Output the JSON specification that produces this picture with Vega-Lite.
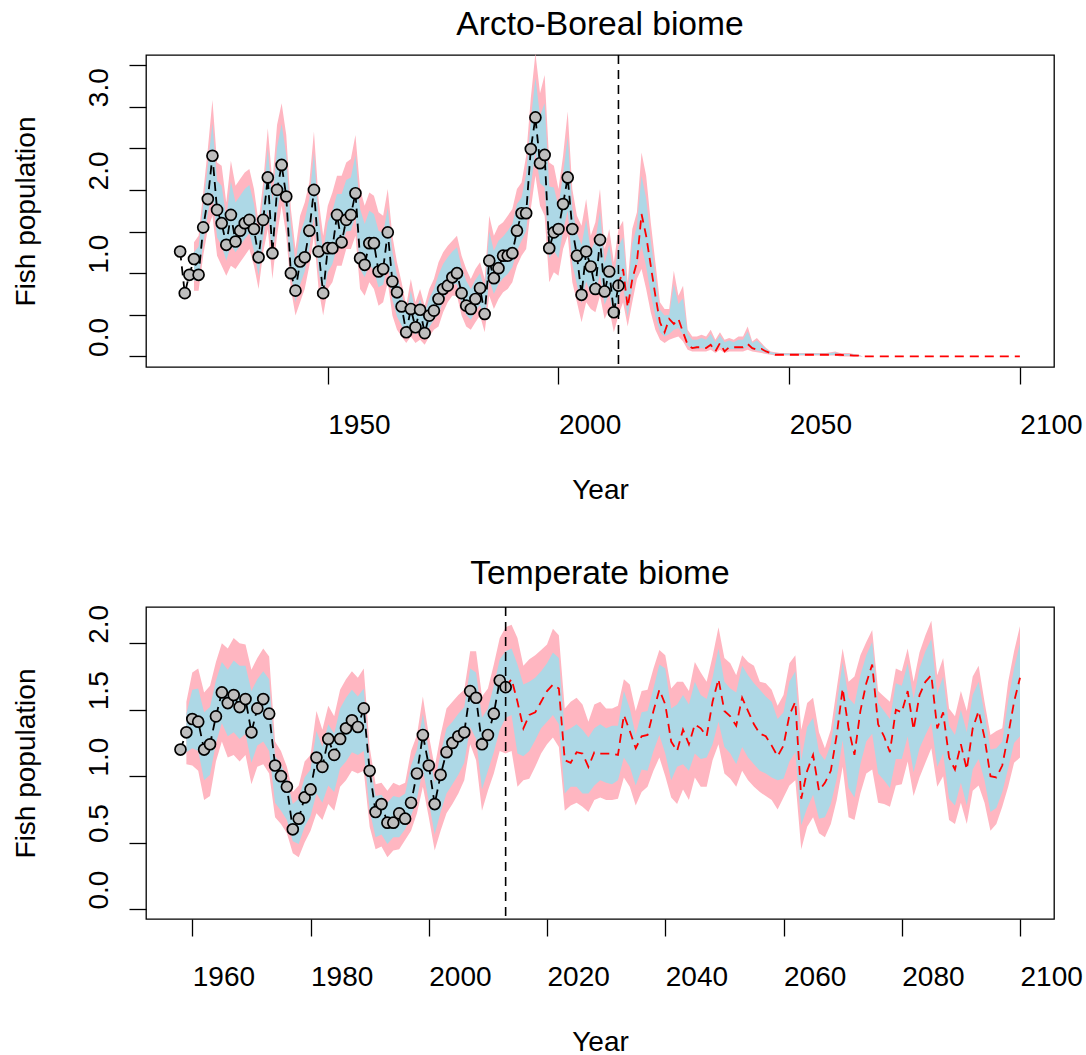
{
"$schema": "https://vega.github.io/schema/vega-lite/v6.json",
"background": "white",
"padding": {"left": 11, "top": 7, "right": 2, "bottom": 2},
"spacing": 51,
"config": {
  "font": "Liberation Sans",
  "view": {"stroke": "black", "strokeWidth": 1.3},
  "axis": {"domain": false, "grid": false, "ticks": true, "tickColor": "black", "tickWidth": 1.3, "tickSize": 17,
    "labelFont": "Liberation Sans", "labelFontSize": 28, "labelColor": "black",
    "titleFont": "Liberation Sans", "titleFontSize": 28, "titleFontWeight": "normal", "titleColor": "black"},
  "title": {"font": "Liberation Sans", "fontSize": 33.6, "fontWeight": "normal", "color": "black", "frame": "group", "anchor": "middle", "baseline": "alphabetic", "offset": 12}
},
"datasets": {
"top": [
{"yr":1918,"est":1.26,"obs":1.26},
{"yr":1919,"est":0.76,"obs":0.76},
{"yr":1920,"est":0.98,"obs":0.98},
{"yr":1921,"est":1.17,"obs":1.17,"p_lo":0.79,"b_lo":0.91,"b_hi":1.25,"p_hi":1.37},
{"yr":1922,"est":0.98,"obs":0.98,"p_lo":0.79,"b_lo":0.92,"b_hi":1.32,"p_hi":1.45},
{"yr":1923,"est":1.55,"obs":1.55,"p_lo":1.21,"b_lo":1.36,"b_hi":1.82,"p_hi":1.97},
{"yr":1924,"est":1.89,"obs":1.89,"p_lo":1.53,"b_lo":1.72,"b_hi":2.30,"p_hi":2.49},
{"yr":1925,"est":2.41,"obs":2.41,"p_lo":1.69,"b_lo":1.97,"b_hi":2.80,"p_hi":3.08},
{"yr":1926,"est":1.76,"obs":1.76,"p_lo":1.21,"b_lo":1.43,"b_hi":2.11,"p_hi":2.33},
{"yr":1927,"est":1.60,"obs":1.60,"p_lo":1.09,"b_lo":1.33,"b_hi":2.05,"p_hi":2.29},
{"yr":1928,"est":1.34,"obs":1.34,"p_lo":0.97,"b_lo":1.15,"b_hi":1.67,"p_hi":1.85},
{"yr":1929,"est":1.70,"obs":1.70,"p_lo":1.09,"b_lo":1.34,"b_hi":2.10,"p_hi":2.35},
{"yr":1930,"est":1.38,"obs":1.38,"p_lo":1.05,"b_lo":1.25,"b_hi":1.85,"p_hi":2.05},
{"yr":1931,"est":1.51,"obs":1.51,"p_lo":1.13,"b_lo":1.33,"b_hi":1.93,"p_hi":2.13},
{"yr":1932,"est":1.60,"obs":1.60,"p_lo":1.21,"b_lo":1.41,"b_hi":2.01,"p_hi":2.21},
{"yr":1933,"est":1.64,"obs":1.64,"p_lo":1.29,"b_lo":1.48,"b_hi":2.06,"p_hi":2.25},
{"yr":1934,"est":1.53,"obs":1.53,"p_lo":1.09,"b_lo":1.27,"b_hi":1.83,"p_hi":2.01},
{"yr":1935,"est":1.19,"obs":1.19,"p_lo":0.81,"b_lo":0.97,"b_hi":1.45,"p_hi":1.61},
{"yr":1936,"est":1.64,"obs":1.64,"p_lo":1.25,"b_lo":1.42,"b_hi":1.92,"p_hi":2.09},
{"yr":1937,"est":2.15,"obs":2.15,"p_lo":1.53,"b_lo":1.77,"b_hi":2.50,"p_hi":2.74},
{"yr":1938,"est":1.24,"obs":1.24,"p_lo":0.93,"b_lo":1.16,"b_hi":1.86,"p_hi":2.09},
{"yr":1939,"est":2.00,"obs":2.00,"p_lo":1.45,"b_lo":1.72,"b_hi":2.51,"p_hi":2.78},
{"yr":1940,"est":2.30,"obs":2.30,"p_lo":1.81,"b_lo":2.06,"b_hi":2.79,"p_hi":3.04},
{"yr":1941,"est":1.92,"obs":1.92,"p_lo":1.45,"b_lo":1.69,"b_hi":2.42,"p_hi":2.66},
{"yr":1942,"est":1.00,"obs":1.00,"p_lo":0.81,"b_lo":1.00,"b_hi":1.58,"p_hi":1.77},
{"yr":1943,"est":0.79,"obs":0.79,"p_lo":0.49,"b_lo":0.65,"b_hi":1.13,"p_hi":1.29},
{"yr":1944,"est":1.14,"obs":1.14,"p_lo":0.65,"b_lo":0.86,"b_hi":1.48,"p_hi":1.69},
{"yr":1945,"est":1.19,"obs":1.19,"p_lo":0.81,"b_lo":1.02,"b_hi":1.64,"p_hi":1.85},
{"yr":1946,"est":1.51,"obs":1.51,"p_lo":1.09,"b_lo":1.29,"b_hi":1.89,"p_hi":2.09},
{"yr":1947,"est":2.00,"obs":2.00,"p_lo":1.45,"b_lo":1.70,"b_hi":2.45,"p_hi":2.70},
{"yr":1948,"est":1.26,"obs":1.26,"p_lo":0.81,"b_lo":1.03,"b_hi":1.67,"p_hi":1.89},
{"yr":1949,"est":0.76,"obs":0.76,"p_lo":0.49,"b_lo":0.68,"b_hi":1.26,"p_hi":1.45},
{"yr":1950,"est":1.30,"obs":1.30,"p_lo":0.81,"b_lo":1.01,"b_hi":1.61,"p_hi":1.81},
{"yr":1951,"est":1.30,"obs":1.30,"p_lo":0.89,"b_lo":1.11,"b_hi":1.75,"p_hi":1.97},
{"yr":1952,"est":1.70,"obs":1.70,"p_lo":1.09,"b_lo":1.31,"b_hi":1.95,"p_hi":2.17},
{"yr":1953,"est":1.37,"obs":1.37,"p_lo":1.09,"b_lo":1.31,"b_hi":1.95,"p_hi":2.17},
{"yr":1954,"est":1.64,"obs":1.64,"p_lo":1.29,"b_lo":1.50,"b_hi":2.12,"p_hi":2.33},
{"yr":1955,"est":1.70,"obs":1.70,"p_lo":1.29,"b_lo":1.51,"b_hi":2.15,"p_hi":2.37},
{"yr":1956,"est":1.96,"obs":1.96,"p_lo":1.45,"b_lo":1.69,"b_hi":2.42,"p_hi":2.66},
{"yr":1957,"est":1.18,"obs":1.18,"p_lo":0.81,"b_lo":1.05,"b_hi":1.77,"p_hi":2.01},
{"yr":1958,"est":1.10,"obs":1.10,"p_lo":0.73,"b_lo":0.95,"b_hi":1.59,"p_hi":1.81},
{"yr":1959,"est":1.36,"obs":1.36,"p_lo":0.89,"b_lo":1.11,"b_hi":1.75,"p_hi":1.97},
{"yr":1960,"est":1.36,"obs":1.36,"p_lo":0.81,"b_lo":1.03,"b_hi":1.71,"p_hi":1.93},
{"yr":1961,"est":1.02,"obs":1.02,"p_lo":0.61,"b_lo":0.83,"b_hi":1.51,"p_hi":1.73},
{"yr":1962,"est":1.05,"obs":1.05,"p_lo":0.65,"b_lo":0.86,"b_hi":1.48,"p_hi":1.69},
{"yr":1963,"est":1.49,"obs":1.49,"p_lo":0.89,"b_lo":1.11,"b_hi":1.79,"p_hi":2.01},
{"yr":1964,"est":0.90,"obs":0.90,"p_lo":0.49,"b_lo":0.68,"b_hi":1.26,"p_hi":1.45},
{"yr":1965,"est":0.77,"obs":0.77,"p_lo":0.32,"b_lo":0.48,"b_hi":0.97,"p_hi":1.13},
{"yr":1966,"est":0.60,"obs":0.60,"p_lo":0.24,"b_lo":0.37,"b_hi":0.76,"p_hi":0.89},
{"yr":1967,"est":0.29,"obs":0.29,"p_lo":0.16,"b_lo":0.25,"b_hi":0.52,"p_hi":0.61},
{"yr":1968,"est":0.57,"obs":0.57,"p_lo":0.24,"b_lo":0.38,"b_hi":0.79,"p_hi":0.93},
{"yr":1969,"est":0.35,"obs":0.35,"p_lo":0.16,"b_lo":0.26,"b_hi":0.55,"p_hi":0.65},
{"yr":1970,"est":0.56,"obs":0.56,"p_lo":0.20,"b_lo":0.32,"b_hi":0.69,"p_hi":0.81},
{"yr":1971,"est":0.28,"obs":0.28,"p_lo":0.14,"b_lo":0.23,"b_hi":0.52,"p_hi":0.61},
{"yr":1972,"est":0.49,"obs":0.49,"p_lo":0.24,"b_lo":0.35,"b_hi":0.70,"p_hi":0.81},
{"yr":1973,"est":0.55,"obs":0.55,"p_lo":0.32,"b_lo":0.44,"b_hi":0.81,"p_hi":0.93},
{"yr":1974,"est":0.69,"obs":0.69,"p_lo":0.36,"b_lo":0.51,"b_hi":0.98,"p_hi":1.13},
{"yr":1975,"est":0.81,"obs":0.81,"p_lo":0.53,"b_lo":0.67,"b_hi":1.11,"p_hi":1.25},
{"yr":1976,"est":0.85,"obs":0.85,"p_lo":0.65,"b_lo":0.79,"b_hi":1.19,"p_hi":1.33},
{"yr":1977,"est":0.95,"obs":0.95,"p_lo":0.73,"b_lo":0.86,"b_hi":1.26,"p_hi":1.39},
{"yr":1978,"est":1.00,"obs":1.00,"p_lo":0.73,"b_lo":0.87,"b_hi":1.31,"p_hi":1.45},
{"yr":1979,"est":0.76,"obs":0.76,"p_lo":0.49,"b_lo":0.63,"b_hi":1.07,"p_hi":1.21},
{"yr":1980,"est":0.61,"obs":0.61,"p_lo":0.36,"b_lo":0.50,"b_hi":0.91,"p_hi":1.05},
{"yr":1981,"est":0.57,"obs":0.57,"p_lo":0.32,"b_lo":0.44,"b_hi":0.81,"p_hi":0.93},
{"yr":1982,"est":0.69,"obs":0.69,"p_lo":0.41,"b_lo":0.54,"b_hi":0.92,"p_hi":1.05},
{"yr":1983,"est":0.82,"obs":0.82,"p_lo":0.49,"b_lo":0.62,"b_hi":1.00,"p_hi":1.13},
{"yr":1984,"est":0.51,"obs":0.51,"p_lo":0.29,"b_lo":0.42,"b_hi":0.80,"p_hi":0.93},
{"yr":1985,"est":1.15,"obs":1.15,"p_lo":0.73,"b_lo":0.92,"b_hi":1.50,"p_hi":1.69},
{"yr":1986,"est":0.94,"obs":0.94,"p_lo":0.57,"b_lo":0.75,"b_hi":1.27,"p_hi":1.45},
{"yr":1987,"est":1.06,"obs":1.06,"p_lo":0.69,"b_lo":0.87,"b_hi":1.39,"p_hi":1.57},
{"yr":1988,"est":1.21,"obs":1.21,"p_lo":0.77,"b_lo":0.94,"b_hi":1.44,"p_hi":1.61},
{"yr":1989,"est":1.21,"obs":1.21,"p_lo":0.81,"b_lo":0.99,"b_hi":1.51,"p_hi":1.69},
{"yr":1990,"est":1.24,"obs":1.24,"p_lo":0.89,"b_lo":1.07,"b_hi":1.59,"p_hi":1.77},
{"yr":1991,"est":1.51,"obs":1.51,"p_lo":1.09,"b_lo":1.27,"b_hi":1.83,"p_hi":2.01},
{"yr":1992,"est":1.72,"obs":1.72,"p_lo":1.21,"b_lo":1.39,"b_hi":1.91,"p_hi":2.09},
{"yr":1993,"est":1.72,"obs":1.72,"p_lo":1.29,"b_lo":1.51,"b_hi":2.19,"p_hi":2.41},
{"yr":1994,"est":2.49,"obs":2.49,"p_lo":1.77,"b_lo":2.04,"b_hi":2.83,"p_hi":3.10},
{"yr":1995,"est":2.87,"obs":2.87,"p_lo":2.17,"b_lo":2.46,"b_hi":3.35,"p_hi":3.64},
{"yr":1996,"est":2.32,"obs":2.32,"p_lo":1.81,"b_lo":2.08,"b_hi":2.89,"p_hi":3.16},
{"yr":1997,"est":2.42,"obs":2.42,"p_lo":1.69,"b_lo":2.03,"b_hi":3.04,"p_hi":3.38},
{"yr":1998,"est":1.30,"obs":1.30,"p_lo":0.89,"b_lo":1.18,"b_hi":2.04,"p_hi":2.33},
{"yr":1999,"est":1.49,"obs":1.49,"p_lo":1.01,"b_lo":1.27,"b_hi":2.03,"p_hi":2.29},
{"yr":2000,"est":1.53,"obs":1.53,"p_lo":0.97,"b_lo":1.18,"b_hi":1.80,"p_hi":2.01},
{"yr":2001,"est":1.83,"obs":1.83,"p_lo":1.29,"b_lo":1.51,"b_hi":2.19,"p_hi":2.41},
{"yr":2002,"est":2.15,"obs":2.15,"p_lo":1.45,"b_lo":1.75,"b_hi":2.64,"p_hi":2.94},
{"yr":2003,"est":1.53,"obs":1.53,"p_lo":0.89,"b_lo":1.11,"b_hi":1.79,"p_hi":2.01},
{"yr":2004,"est":1.21,"obs":1.21,"p_lo":0.65,"b_lo":0.86,"b_hi":1.48,"p_hi":1.69},
{"yr":2005,"est":0.74,"obs":0.74,"p_lo":0.41,"b_lo":0.64,"b_hi":1.34,"p_hi":1.57},
{"yr":2006,"est":1.26,"obs":1.26,"p_lo":0.65,"b_lo":0.90,"b_hi":1.64,"p_hi":1.89},
{"yr":2007,"est":1.08,"obs":1.08,"p_lo":0.57,"b_lo":0.75,"b_hi":1.27,"p_hi":1.45},
{"yr":2008,"est":0.81,"obs":0.81,"p_lo":0.53,"b_lo":0.75,"b_hi":1.39,"p_hi":1.61},
{"yr":2009,"est":1.40,"obs":1.40,"p_lo":0.73,"b_lo":0.99,"b_hi":1.75,"p_hi":2.01},
{"yr":2010,"est":0.78,"obs":0.78,"p_lo":0.45,"b_lo":0.62,"b_hi":1.12,"p_hi":1.29},
{"yr":2011,"est":1.02,"obs":1.02,"p_lo":0.57,"b_lo":0.76,"b_hi":1.34,"p_hi":1.53},
{"yr":2012,"est":0.53,"obs":0.53,"p_lo":0.29,"b_lo":0.46,"b_hi":0.96,"p_hi":1.13},
{"yr":2013,"est":0.85,"obs":0.85,"p_lo":0.49,"b_lo":0.70,"b_hi":1.32,"p_hi":1.53},
{"yr":2014,"est":1.05,"p_lo":0.65,"b_lo":0.85,"b_hi":1.43,"p_hi":1.63},
{"yr":2015,"est":0.59,"p_lo":0.36,"b_lo":0.47,"b_hi":0.78,"p_hi":0.89},
{"yr":2016,"est":0.93,"p_lo":0.65,"b_lo":0.83,"b_hi":1.35,"p_hi":1.53},
{"yr":2017,"est":1.13,"p_lo":0.93,"b_lo":1.09,"b_hi":1.57,"p_hi":1.73},
{"yr":2018,"est":1.71,"p_lo":1.05,"b_lo":1.33,"b_hi":2.17,"p_hi":2.45},
{"yr":2019,"est":1.45,"p_lo":0.81,"b_lo":1.08,"b_hi":1.90,"p_hi":2.17},
{"yr":2020,"est":1.09,"p_lo":0.53,"b_lo":0.75,"b_hi":1.39,"p_hi":1.61},
{"yr":2021,"est":0.73,"p_lo":0.32,"b_lo":0.48,"b_hi":0.97,"p_hi":1.13},
{"yr":2022,"est":0.41,"p_lo":0.20,"b_lo":0.29,"b_hi":0.56,"p_hi":0.65},
{"yr":2023,"est":0.29,"p_lo":0.16,"b_lo":0.24,"b_hi":0.49,"p_hi":0.57},
{"yr":2024,"est":0.45,"p_lo":0.20,"b_lo":0.27,"b_hi":0.50,"p_hi":0.57},
{"yr":2025,"est":0.39,"p_lo":0.22,"b_lo":0.32,"b_hi":0.87,"p_hi":1.03},
{"yr":2026,"est":0.45,"p_lo":0.24,"b_lo":0.34,"b_hi":0.63,"p_hi":0.73},
{"yr":2027,"est":0.29,"p_lo":0.18,"b_lo":0.26,"b_hi":0.70,"p_hi":0.85},
{"yr":2028,"est":0.14,"p_lo":0.08,"b_lo":0.13,"b_hi":0.27,"p_hi":0.32},
{"yr":2029,"est":0.10,"p_lo":0.06,"b_lo":0.09,"b_hi":0.20,"p_hi":0.24},
{"yr":2030,"est":0.11,"p_lo":0.06,"b_lo":0.09,"b_hi":0.20,"p_hi":0.24},
{"yr":2031,"est":0.11,"p_lo":0.06,"b_lo":0.10,"b_hi":0.22,"p_hi":0.26},
{"yr":2032,"est":0.10,"p_lo":0.06,"b_lo":0.09,"b_hi":0.20,"p_hi":0.24},
{"yr":2033,"est":0.14,"p_lo":0.08,"b_lo":0.12,"b_hi":0.27,"p_hi":0.32},
{"yr":2034,"est":0.06,"p_lo":0.04,"b_lo":0.06,"b_hi":0.17,"p_hi":0.20},
{"yr":2035,"est":0.16,"p_lo":0.08,"b_lo":0.12,"b_hi":0.25,"p_hi":0.29},
{"yr":2036,"est":0.06,"p_lo":0.04,"b_lo":0.06,"b_hi":0.17,"p_hi":0.20},
{"yr":2037,"est":0.11,"p_lo":0.06,"b_lo":0.09,"b_hi":0.19,"p_hi":0.22},
{"yr":2038,"est":0.11,"p_lo":0.06,"b_lo":0.09,"b_hi":0.17,"p_hi":0.20},
{"yr":2039,"est":0.11,"p_lo":0.06,"b_lo":0.09,"b_hi":0.20,"p_hi":0.24},
{"yr":2040,"est":0.11,"p_lo":0.06,"b_lo":0.09,"b_hi":0.20,"p_hi":0.24},
{"yr":2041,"est":0.15,"p_lo":0.08,"b_lo":0.12,"b_hi":0.30,"p_hi":0.36},
{"yr":2042,"est":0.10,"p_lo":0.06,"b_lo":0.08,"b_hi":0.16,"p_hi":0.18},
{"yr":2043,"est":0.08,"p_lo":0.05,"b_lo":0.07,"b_hi":0.19,"p_hi":0.22},
{"yr":2044,"est":0.09,"p_lo":0.04,"b_lo":0.06,"b_hi":0.14,"p_hi":0.16},
{"yr":2045,"est":0.06,"p_lo":0.03,"b_lo":0.04,"b_hi":0.09,"p_hi":0.10},
{"yr":2046,"est":0.04,"p_lo":0.02,"b_lo":0.03,"b_hi":0.05,"p_hi":0.06},
{"yr":2047,"est":0.02,"p_lo":0.01,"b_lo":0.02,"b_hi":0.04,"p_hi":0.05},
{"yr":2048,"est":0.02,"p_lo":0.01,"b_lo":0.016,"b_hi":0.034,"p_hi":0.04},
{"yr":2049,"est":0.02,"p_lo":0.01,"b_lo":0.016,"b_hi":0.034,"p_hi":0.04},
{"yr":2050,"est":0.02,"p_lo":0.01,"b_lo":0.016,"b_hi":0.034,"p_hi":0.04},
{"yr":2051,"est":0.02,"p_lo":0.01,"b_lo":0.016,"b_hi":0.034,"p_hi":0.04},
{"yr":2052,"est":0.02,"p_lo":0.01,"b_lo":0.016,"b_hi":0.034,"p_hi":0.04},
{"yr":2053,"est":0.02,"p_lo":0.01,"b_lo":0.016,"b_hi":0.034,"p_hi":0.04},
{"yr":2054,"est":0.02,"p_lo":0.01,"b_lo":0.016,"b_hi":0.034,"p_hi":0.04},
{"yr":2055,"est":0.02,"p_lo":0.01,"b_lo":0.016,"b_hi":0.034,"p_hi":0.04},
{"yr":2056,"est":0.02,"p_lo":0.01,"b_lo":0.016,"b_hi":0.034,"p_hi":0.04},
{"yr":2057,"est":0.02,"p_lo":0.01,"b_lo":0.016,"b_hi":0.034,"p_hi":0.04},
{"yr":2058,"est":0.02,"p_lo":0.01,"b_lo":0.016,"b_hi":0.034,"p_hi":0.04},
{"yr":2059,"est":0.02,"p_lo":0.01,"b_lo":0.016,"b_hi":0.04,"p_hi":0.05},
{"yr":2060,"est":0.02,"p_lo":0.01,"b_lo":0.02,"b_hi":0.05,"p_hi":0.06},
{"yr":2061,"est":0.02,"p_lo":0.0,"b_lo":0.01,"b_hi":0.03,"p_hi":0.04},
{"yr":2062,"est":0.015,"p_lo":0.0,"b_lo":0.01,"b_hi":0.03,"p_hi":0.04},
{"yr":2063,"est":0.015,"p_lo":0.0,"b_lo":0.01,"b_hi":0.03,"p_hi":0.04},
{"yr":2064,"est":0.01,"p_lo":0.0,"b_lo":0.01,"b_hi":0.025,"p_hi":0.03},
{"yr":2065,"est":0.01,"p_lo":0.0,"b_lo":0.004,"b_hi":0.016,"p_hi":0.02},
{"yr":2066,"est":0.0,"p_lo":0,"b_lo":0,"b_hi":0,"p_hi":0},
{"yr":2070,"est":0.0,"p_lo":0,"b_lo":0,"b_hi":0,"p_hi":0},
{"yr":2080,"est":0.0,"p_lo":0,"b_lo":0,"b_hi":0,"p_hi":0},
{"yr":2090,"est":0.0,"p_lo":0,"b_lo":0,"b_hi":0,"p_hi":0},
{"yr":2100,"est":0.0,"p_lo":0,"b_lo":0,"b_hi":0,"p_hi":0}
],
"bot": [
{"yr":1958,"est":1.20,"obs":1.20},
{"yr":1959,"est":1.33,"obs":1.33,"p_lo":1.09,"b_lo":1.18,"b_hi":1.47,"p_hi":1.56},
{"yr":1960,"est":1.43,"obs":1.43,"p_lo":1.08,"b_lo":1.21,"b_hi":1.65,"p_hi":1.78},
{"yr":1961,"est":1.41,"obs":1.41,"p_lo":1.04,"b_lo":1.19,"b_hi":1.66,"p_hi":1.81},
{"yr":1962,"est":1.20,"obs":1.20,"p_lo":0.82,"b_lo":0.97,"b_hi":1.48,"p_hi":1.63},
{"yr":1963,"est":1.24,"obs":1.24,"p_lo":0.85,"b_lo":1.01,"b_hi":1.52,"p_hi":1.68},
{"yr":1964,"est":1.45,"obs":1.45,"p_lo":1.11,"b_lo":1.25,"b_hi":1.72,"p_hi":1.86},
{"yr":1965,"est":1.63,"obs":1.63,"p_lo":1.26,"b_lo":1.40,"b_hi":1.86,"p_hi":2.00},
{"yr":1966,"est":1.55,"obs":1.55,"p_lo":1.14,"b_lo":1.30,"b_hi":1.80,"p_hi":1.96},
{"yr":1967,"est":1.61,"obs":1.61,"p_lo":1.16,"b_lo":1.33,"b_hi":1.87,"p_hi":2.04},
{"yr":1968,"est":1.52,"obs":1.52,"p_lo":1.11,"b_lo":1.28,"b_hi":1.83,"p_hi":2.00},
{"yr":1969,"est":1.58,"obs":1.58,"p_lo":1.16,"b_lo":1.32,"b_hi":1.83,"p_hi":1.99},
{"yr":1970,"est":1.33,"obs":1.33,"p_lo":0.94,"b_lo":1.10,"b_hi":1.64,"p_hi":1.80},
{"yr":1971,"est":1.51,"obs":1.51,"p_lo":1.07,"b_lo":1.23,"b_hi":1.73,"p_hi":1.89},
{"yr":1972,"est":1.58,"obs":1.58,"p_lo":1.09,"b_lo":1.26,"b_hi":1.79,"p_hi":1.96},
{"yr":1973,"est":1.47,"obs":1.47,"p_lo":1.02,"b_lo":1.19,"b_hi":1.73,"p_hi":1.90},
{"yr":1974,"est":1.08,"obs":1.08,"p_lo":0.69,"b_lo":0.80,"b_hi":1.15,"p_hi":1.26},
{"yr":1975,"est":1.00,"obs":1.00,"p_lo":0.64,"b_lo":0.74,"b_hi":1.09,"p_hi":1.19},
{"yr":1976,"est":0.92,"obs":0.92,"p_lo":0.57,"b_lo":0.67,"b_hi":0.98,"p_hi":1.07},
{"yr":1977,"est":0.60,"obs":0.60,"p_lo":0.42,"b_lo":0.51,"b_hi":0.79,"p_hi":0.88},
{"yr":1978,"est":0.68,"obs":0.68,"p_lo":0.39,"b_lo":0.49,"b_hi":0.83,"p_hi":0.93},
{"yr":1979,"est":0.84,"obs":0.84,"p_lo":0.50,"b_lo":0.62,"b_hi":0.99,"p_hi":1.11},
{"yr":1980,"est":0.90,"obs":0.90,"p_lo":0.59,"b_lo":0.70,"b_hi":1.05,"p_hi":1.16},
{"yr":1981,"est":1.14,"obs":1.14,"p_lo":0.72,"b_lo":0.87,"b_hi":1.34,"p_hi":1.49},
{"yr":1982,"est":1.07,"obs":1.07,"p_lo":0.67,"b_lo":0.80,"b_hi":1.22,"p_hi":1.35},
{"yr":1983,"est":1.28,"obs":1.28,"p_lo":0.79,"b_lo":0.93,"b_hi":1.39,"p_hi":1.53},
{"yr":1984,"est":1.16,"obs":1.16,"p_lo":0.74,"b_lo":0.88,"b_hi":1.32,"p_hi":1.45},
{"yr":1985,"est":1.28,"obs":1.28,"p_lo":0.92,"b_lo":1.06,"b_hi":1.51,"p_hi":1.65},
{"yr":1986,"est":1.36,"obs":1.36,"p_lo":0.97,"b_lo":1.11,"b_hi":1.59,"p_hi":1.73},
{"yr":1987,"est":1.42,"obs":1.42,"p_lo":1.04,"b_lo":1.18,"b_hi":1.65,"p_hi":1.79},
{"yr":1988,"est":1.37,"obs":1.37,"p_lo":1.02,"b_lo":1.16,"b_hi":1.60,"p_hi":1.74},
{"yr":1989,"est":1.51,"obs":1.51,"p_lo":1.04,"b_lo":1.19,"b_hi":1.66,"p_hi":1.81},
{"yr":1990,"est":1.04,"obs":1.04,"p_lo":0.62,"b_lo":0.74,"b_hi":1.10,"p_hi":1.22},
{"yr":1991,"est":0.73,"obs":0.73,"p_lo":0.45,"b_lo":0.54,"b_hi":0.85,"p_hi":0.94},
{"yr":1992,"est":0.79,"obs":0.79,"p_lo":0.47,"b_lo":0.56,"b_hi":0.86,"p_hi":0.95},
{"yr":1993,"est":0.65,"obs":0.65,"p_lo":0.39,"b_lo":0.49,"b_hi":0.80,"p_hi":0.89},
{"yr":1994,"est":0.65,"obs":0.65,"p_lo":0.44,"b_lo":0.54,"b_hi":0.85,"p_hi":0.95},
{"yr":1995,"est":0.72,"obs":0.72,"p_lo":0.45,"b_lo":0.54,"b_hi":0.84,"p_hi":0.93},
{"yr":1996,"est":0.68,"obs":0.68,"p_lo":0.52,"b_lo":0.60,"b_hi":0.87,"p_hi":0.95},
{"yr":1997,"est":0.80,"obs":0.80,"p_lo":0.59,"b_lo":0.70,"b_hi":1.08,"p_hi":1.19},
{"yr":1998,"est":1.02,"obs":1.02,"p_lo":0.72,"b_lo":0.83,"b_hi":1.20,"p_hi":1.31},
{"yr":1999,"est":1.31,"obs":1.31,"p_lo":0.92,"b_lo":1.05,"b_hi":1.47,"p_hi":1.60},
{"yr":2000,"est":1.08,"obs":1.08,"p_lo":0.69,"b_lo":0.81,"b_hi":1.19,"p_hi":1.31},
{"yr":2001,"est":0.79,"obs":0.79,"p_lo":0.44,"b_lo":0.56,"b_hi":0.95,"p_hi":1.07},
{"yr":2002,"est":1.01,"obs":1.01,"p_lo":0.59,"b_lo":0.73,"b_hi":1.17,"p_hi":1.31},
{"yr":2003,"est":1.18,"obs":1.18,"p_lo":0.72,"b_lo":0.87,"b_hi":1.36,"p_hi":1.51},
{"yr":2004,"est":1.25,"obs":1.25,"p_lo":0.79,"b_lo":0.94,"b_hi":1.41,"p_hi":1.56},
{"yr":2005,"est":1.30,"obs":1.30,"p_lo":0.87,"b_lo":1.01,"b_hi":1.47,"p_hi":1.61},
{"yr":2006,"est":1.33,"obs":1.33,"p_lo":0.97,"b_lo":1.10,"b_hi":1.52,"p_hi":1.65},
{"yr":2007,"est":1.64,"obs":1.64,"p_lo":1.24,"b_lo":1.37,"b_hi":1.81,"p_hi":1.94},
{"yr":2008,"est":1.59,"obs":1.59,"p_lo":1.12,"b_lo":1.28,"b_hi":1.78,"p_hi":1.94},
{"yr":2009,"est":1.24,"obs":1.24,"p_lo":0.74,"b_lo":0.90,"b_hi":1.44,"p_hi":1.60},
{"yr":2010,"est":1.31,"obs":1.31,"p_lo":0.89,"b_lo":1.04,"b_hi":1.51,"p_hi":1.66},
{"yr":2011,"est":1.47,"obs":1.47,"p_lo":1.02,"b_lo":1.18,"b_hi":1.68,"p_hi":1.84},
{"yr":2012,"est":1.72,"obs":1.72,"p_lo":1.19,"b_lo":1.35,"b_hi":1.88,"p_hi":2.04},
{"yr":2013,"est":1.67,"obs":1.67,"p_lo":1.17,"b_lo":1.44,"b_hi":1.94,"p_hi":2.12},
{"yr":2014,"est":1.73,"p_lo":1.19,"b_lo":1.46,"b_hi":1.96,"p_hi":2.14},
{"yr":2015,"est":1.56,"p_lo":0.92,"b_lo":1.17,"b_hi":1.84,"p_hi":2.04},
{"yr":2016,"est":1.36,"p_lo":0.97,"b_lo":1.15,"b_hi":1.69,"p_hi":1.83},
{"yr":2017,"est":1.46,"p_lo":0.98,"b_lo":1.19,"b_hi":1.71,"p_hi":1.88},
{"yr":2018,"est":1.48,"p_lo":1.07,"b_lo":1.27,"b_hi":1.74,"p_hi":1.91},
{"yr":2019,"est":1.56,"p_lo":1.17,"b_lo":1.36,"b_hi":1.79,"p_hi":1.95},
{"yr":2020,"est":1.64,"p_lo":1.24,"b_lo":1.41,"b_hi":1.85,"p_hi":1.99},
{"yr":2021,"est":1.69,"p_lo":1.29,"b_lo":1.46,"b_hi":1.93,"p_hi":2.11},
{"yr":2022,"est":1.66,"p_lo":1.22,"b_lo":1.39,"b_hi":1.89,"p_hi":2.06},
{"yr":2023,"est":1.12,"p_lo":0.74,"b_lo":0.87,"b_hi":1.34,"p_hi":1.51},
{"yr":2024,"est":1.10,"p_lo":0.78,"b_lo":0.92,"b_hi":1.36,"p_hi":1.56},
{"yr":2025,"est":1.18,"p_lo":0.80,"b_lo":0.92,"b_hi":1.39,"p_hi":1.59},
{"yr":2026,"est":1.17,"p_lo":0.77,"b_lo":0.87,"b_hi":1.35,"p_hi":1.54},
{"yr":2027,"est":1.07,"p_lo":0.73,"b_lo":0.87,"b_hi":1.29,"p_hi":1.41},
{"yr":2028,"est":1.18,"p_lo":0.82,"b_lo":0.93,"b_hi":1.36,"p_hi":1.54},
{"yr":2029,"est":1.17,"p_lo":0.84,"b_lo":0.97,"b_hi":1.39,"p_hi":1.56},
{"yr":2030,"est":1.17,"p_lo":0.82,"b_lo":0.95,"b_hi":1.36,"p_hi":1.51},
{"yr":2031,"est":1.17,"p_lo":0.82,"b_lo":0.94,"b_hi":1.38,"p_hi":1.51},
{"yr":2032,"est":1.16,"p_lo":0.83,"b_lo":0.97,"b_hi":1.38,"p_hi":1.53},
{"yr":2033,"est":1.46,"p_lo":0.99,"b_lo":1.14,"b_hi":1.64,"p_hi":1.73},
{"yr":2034,"est":1.34,"p_lo":0.92,"b_lo":1.07,"b_hi":1.51,"p_hi":1.69},
{"yr":2035,"est":1.21,"p_lo":0.78,"b_lo":0.93,"b_hi":1.31,"p_hi":1.49},
{"yr":2036,"est":1.30,"p_lo":0.88,"b_lo":1.05,"b_hi":1.48,"p_hi":1.64},
{"yr":2037,"est":1.31,"p_lo":0.92,"b_lo":1.04,"b_hi":1.49,"p_hi":1.65},
{"yr":2038,"est":1.49,"p_lo":1.04,"b_lo":1.19,"b_hi":1.66,"p_hi":1.81},
{"yr":2039,"est":1.65,"p_lo":1.14,"b_lo":1.31,"b_hi":1.84,"p_hi":1.95},
{"yr":2040,"est":1.54,"p_lo":1.00,"b_lo":1.17,"b_hi":1.81,"p_hi":1.91},
{"yr":2041,"est":1.26,"p_lo":0.84,"b_lo":0.97,"b_hi":1.51,"p_hi":1.66},
{"yr":2042,"est":1.19,"p_lo":0.79,"b_lo":1.07,"b_hi":1.54,"p_hi":1.71},
{"yr":2043,"est":1.35,"p_lo":0.90,"b_lo":1.09,"b_hi":1.61,"p_hi":1.71},
{"yr":2044,"est":1.24,"p_lo":0.82,"b_lo":1.04,"b_hi":1.54,"p_hi":1.64},
{"yr":2045,"est":1.39,"p_lo":0.99,"b_lo":1.17,"b_hi":1.71,"p_hi":1.86},
{"yr":2046,"est":1.36,"p_lo":0.92,"b_lo":1.13,"b_hi":1.61,"p_hi":1.78},
{"yr":2047,"est":1.30,"p_lo":0.92,"b_lo":1.14,"b_hi":1.58,"p_hi":1.71},
{"yr":2048,"est":1.56,"p_lo":1.12,"b_lo":1.24,"b_hi":1.74,"p_hi":1.90},
{"yr":2049,"est":1.73,"p_lo":1.24,"b_lo":1.41,"b_hi":1.96,"p_hi":2.12},
{"yr":2050,"est":1.49,"p_lo":1.02,"b_lo":1.22,"b_hi":1.71,"p_hi":1.89},
{"yr":2051,"est":1.45,"p_lo":0.98,"b_lo":1.17,"b_hi":1.66,"p_hi":1.85},
{"yr":2052,"est":1.38,"p_lo":0.92,"b_lo":1.09,"b_hi":1.63,"p_hi":1.76},
{"yr":2053,"est":1.59,"p_lo":1.04,"b_lo":1.22,"b_hi":1.83,"p_hi":1.91},
{"yr":2054,"est":1.49,"p_lo":0.97,"b_lo":1.14,"b_hi":1.76,"p_hi":1.86},
{"yr":2055,"est":1.39,"p_lo":0.92,"b_lo":1.09,"b_hi":1.70,"p_hi":1.83},
{"yr":2056,"est":1.32,"p_lo":0.88,"b_lo":1.04,"b_hi":1.65,"p_hi":1.71},
{"yr":2057,"est":1.30,"p_lo":0.85,"b_lo":1.02,"b_hi":1.60,"p_hi":1.70},
{"yr":2058,"est":1.23,"p_lo":0.82,"b_lo":0.99,"b_hi":1.56,"p_hi":1.65},
{"yr":2059,"est":1.15,"p_lo":0.75,"b_lo":0.97,"b_hi":1.43,"p_hi":1.53},
{"yr":2060,"est":1.23,"p_lo":0.84,"b_lo":0.98,"b_hi":1.48,"p_hi":1.61},
{"yr":2061,"est":1.46,"p_lo":0.93,"b_lo":1.11,"b_hi":1.71,"p_hi":1.85},
{"yr":2062,"est":1.56,"p_lo":0.97,"b_lo":1.18,"b_hi":1.79,"p_hi":1.91},
{"yr":2063,"est":0.83,"p_lo":0.45,"b_lo":0.63,"b_hi":1.12,"p_hi":1.35},
{"yr":2064,"est":1.04,"p_lo":0.62,"b_lo":0.76,"b_hi":1.37,"p_hi":1.55},
{"yr":2065,"est":1.16,"p_lo":0.69,"b_lo":0.86,"b_hi":1.44,"p_hi":1.59},
{"yr":2066,"est":0.89,"p_lo":0.57,"b_lo":0.68,"b_hi":1.18,"p_hi":1.33},
{"yr":2067,"est":0.95,"p_lo":0.54,"b_lo":0.69,"b_hi":1.12,"p_hi":1.21},
{"yr":2068,"est":1.04,"p_lo":0.64,"b_lo":0.79,"b_hi":1.24,"p_hi":1.35},
{"yr":2069,"est":1.31,"p_lo":0.82,"b_lo":0.98,"b_hi":1.54,"p_hi":1.66},
{"yr":2070,"est":1.66,"p_lo":1.07,"b_lo":1.27,"b_hi":1.86,"p_hi":1.96},
{"yr":2071,"est":1.36,"p_lo":0.69,"b_lo":0.91,"b_hi":1.59,"p_hi":1.71},
{"yr":2072,"est":1.16,"p_lo":0.67,"b_lo":0.84,"b_hi":1.54,"p_hi":1.75},
{"yr":2073,"est":1.49,"p_lo":0.87,"b_lo":1.09,"b_hi":1.76,"p_hi":1.91},
{"yr":2074,"est":1.70,"p_lo":1.02,"b_lo":1.26,"b_hi":1.91,"p_hi":2.01},
{"yr":2075,"est":1.84,"p_lo":1.05,"b_lo":1.32,"b_hi":2.01,"p_hi":2.10},
{"yr":2076,"est":1.39,"p_lo":0.80,"b_lo":1.02,"b_hi":1.55,"p_hi":1.64},
{"yr":2077,"est":1.30,"p_lo":0.79,"b_lo":0.97,"b_hi":1.49,"p_hi":1.60},
{"yr":2078,"est":1.18,"p_lo":0.77,"b_lo":0.91,"b_hi":1.43,"p_hi":1.56},
{"yr":2079,"est":1.50,"p_lo":0.93,"b_lo":1.13,"b_hi":1.70,"p_hi":1.81},
{"yr":2080,"est":1.48,"p_lo":0.94,"b_lo":1.13,"b_hi":1.68,"p_hi":1.79},
{"yr":2081,"est":1.64,"p_lo":1.11,"b_lo":1.30,"b_hi":1.85,"p_hi":1.96},
{"yr":2082,"est":1.35,"p_lo":0.85,"b_lo":1.03,"b_hi":1.58,"p_hi":1.71},
{"yr":2083,"est":1.61,"p_lo":0.99,"b_lo":1.21,"b_hi":1.81,"p_hi":1.93},
{"yr":2084,"est":1.71,"p_lo":1.10,"b_lo":1.31,"b_hi":1.94,"p_hi":2.06},
{"yr":2085,"est":1.76,"p_lo":1.21,"b_lo":1.40,"b_hi":2.03,"p_hi":2.17},
{"yr":2086,"est":1.36,"p_lo":0.92,"b_lo":1.07,"b_hi":1.62,"p_hi":1.76},
{"yr":2087,"est":1.48,"p_lo":1.00,"b_lo":1.17,"b_hi":1.75,"p_hi":1.89},
{"yr":2088,"est":1.14,"p_lo":0.67,"b_lo":0.83,"b_hi":1.38,"p_hi":1.51},
{"yr":2089,"est":1.05,"p_lo":0.64,"b_lo":0.78,"b_hi":1.31,"p_hi":1.45},
{"yr":2090,"est":1.24,"p_lo":0.80,"b_lo":0.95,"b_hi":1.50,"p_hi":1.64},
{"yr":2091,"est":1.05,"p_lo":0.64,"b_lo":0.78,"b_hi":1.33,"p_hi":1.49},
{"yr":2092,"est":1.36,"p_lo":0.89,"b_lo":1.05,"b_hi":1.61,"p_hi":1.75},
{"yr":2093,"est":1.49,"p_lo":0.93,"b_lo":1.13,"b_hi":1.71,"p_hi":1.83},
{"yr":2094,"est":1.29,"p_lo":0.80,"b_lo":0.97,"b_hi":1.47,"p_hi":1.56},
{"yr":2095,"est":1.00,"p_lo":0.59,"b_lo":0.73,"b_hi":1.20,"p_hi":1.31},
{"yr":2096,"est":0.99,"p_lo":0.64,"b_lo":0.76,"b_hi":1.21,"p_hi":1.34},
{"yr":2097,"est":1.08,"p_lo":0.77,"b_lo":0.88,"b_hi":1.26,"p_hi":1.36},
{"yr":2098,"est":1.31,"p_lo":0.92,"b_lo":1.06,"b_hi":1.57,"p_hi":1.71},
{"yr":2099,"est":1.56,"p_lo":1.10,"b_lo":1.25,"b_hi":1.81,"p_hi":1.94},
{"yr":2100,"est":1.74,"p_lo":1.14,"b_lo":1.30,"b_hi":2.00,"p_hi":2.13}
]
},
"vconcat": [
{
  "title": {"text": "Arcto-Boreal biome", "offset": 12},
  "width": 908, "height": 312,
  "data": {"name": "top"},
  "encoding": {
    "x": {"field": "yr", "type": "quantitative",
      "scale": {"domain": [1910.6, 2107.4], "nice": false, "zero": false},
      "axis": {"values": [1950, 2000, 2050, 2100], "format": "d", "title": "Year",
        "labelAlign": "left", "labelBaseline": "top", "labelPadding": 27, "labelFlush": false, "labelOverlap": false,
        "titleY": 131, "titleBaseline": "alphabetic"}}
  },
  "layer": [
    {"mark": {"type": "area", "color": "#FFB6C1", "opacity": 1},
     "encoding": {
       "y": {"field": "p_lo", "type": "quantitative", "title": "Fish population",
         "scale": {"domain": [-0.127, 3.62], "nice": false, "zero": false},
         "axis": {"values": [0, 0.5, 1, 1.5, 2, 2.5, 3, 3.5],
           "labelExpr": "datum.value % 1 === 0 ? format(datum.value, '.1f') : ''",
           "labelAngle": -90, "labelAlign": "left", "labelBaseline": "alphabetic", "labelPadding": 22,
           "labelFlush": false, "labelOverlap": false,
           "title": "Fish population", "titleX": -112, "titleAngle": -90, "titleAlign": "center", "titleBaseline": "alphabetic"}},
       "y2": {"field": "p_hi"}}},
    {"mark": {"type": "area", "color": "#ADD8E6", "opacity": 1},
     "encoding": {"y": {"field": "b_lo", "type": "quantitative", "title": "Fish population"}, "y2": {"field": "b_hi"}}},
    {"transform": [{"filter": "datum.yr <= 2013"}],
     "mark": {"type": "line", "color": "black", "strokeDash": [9, 6], "strokeWidth": 1.8},
     "encoding": {"y": {"field": "est", "type": "quantitative", "title": "Fish population"}}},
    {"transform": [{"filter": "datum.yr >= 2013"}],
     "mark": {"type": "line", "color": "#FF0000", "strokeDash": [9, 6], "strokeWidth": 1.8},
     "encoding": {"y": {"field": "est", "type": "quantitative", "title": "Fish population"}}},
    {"mark": {"type": "point", "shape": "circle", "filled": true, "fill": "#BEBEBE", "stroke": "black", "strokeWidth": 1.7, "size": 120, "opacity": 1},
     "encoding": {"y": {"field": "obs", "type": "quantitative", "title": "Fish population"}}},
    {"transform": [{"filter": "datum.yr === 2013"}],
     "mark": {"type": "rule", "color": "black", "strokeDash": [9, 6], "strokeWidth": 1.6},
     "encoding": {}}
  ]
},
{
  "title": {"text": "Temperate biome", "offset": 14},
  "width": 908, "height": 312,
  "data": {"name": "bot"},
  "encoding": {
    "x": {"field": "yr", "type": "quantitative",
      "scale": {"domain": [1952.17, 2105.75], "nice": false, "zero": false},
      "axis": {"values": [1960, 1980, 2000, 2020, 2040, 2060, 2080, 2100], "format": "d", "title": "Year",
        "labelAlign": "left", "labelBaseline": "top", "labelPadding": 27, "labelFlush": false, "labelOverlap": false,
        "titleY": 131, "titleBaseline": "alphabetic"}}
  },
  "layer": [
    {"mark": {"type": "area", "color": "#FFB6C1", "opacity": 1},
     "encoding": {
       "y": {"field": "p_lo", "type": "quantitative", "title": "Fish population",
         "scale": {"domain": [-0.075, 2.273], "nice": false, "zero": false},
         "axis": {"values": [0, 0.5, 1, 1.5, 2], "format": ".1f",
           "labelAngle": -90, "labelAlign": "left", "labelBaseline": "alphabetic", "labelPadding": 22,
           "labelFlush": false, "labelOverlap": false,
           "title": "Fish population", "titleX": -112, "titleAngle": -90, "titleAlign": "center", "titleBaseline": "alphabetic"}},
       "y2": {"field": "p_hi"}}},
    {"mark": {"type": "area", "color": "#ADD8E6", "opacity": 1},
     "encoding": {"y": {"field": "b_lo", "type": "quantitative", "title": "Fish population"}, "y2": {"field": "b_hi"}}},
    {"transform": [{"filter": "datum.yr <= 2013"}],
     "mark": {"type": "line", "color": "black", "strokeDash": [9, 6], "strokeWidth": 1.8},
     "encoding": {"y": {"field": "est", "type": "quantitative", "title": "Fish population"}}},
    {"transform": [{"filter": "datum.yr >= 2013"}],
     "mark": {"type": "line", "color": "#FF0000", "strokeDash": [9, 6], "strokeWidth": 1.8},
     "encoding": {"y": {"field": "est", "type": "quantitative", "title": "Fish population"}}},
    {"mark": {"type": "point", "shape": "circle", "filled": true, "fill": "#BEBEBE", "stroke": "black", "strokeWidth": 1.7, "size": 120, "opacity": 1},
     "encoding": {"y": {"field": "obs", "type": "quantitative", "title": "Fish population"}}},
    {"transform": [{"filter": "datum.yr === 2013"}],
     "mark": {"type": "rule", "color": "black", "strokeDash": [9, 6], "strokeWidth": 1.6},
     "encoding": {}}
  ]
}
]
}
